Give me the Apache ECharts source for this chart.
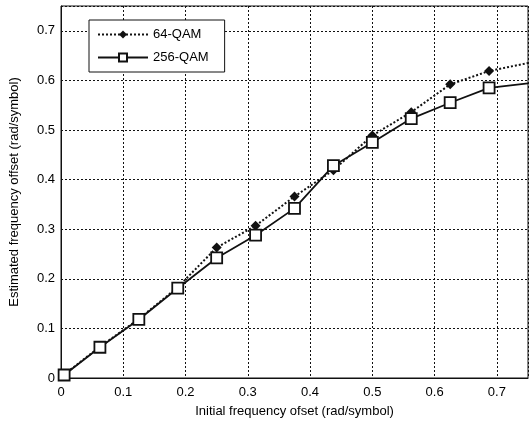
<!DOCTYPE html>
<html>
<head>
  <meta charset="UTF-8">
  <script src="https://cdn.jsdelivr.net/npm/echarts@6/dist/echarts.min.js"></script>
  <style>
    body { margin: 0; background: #fff; }
    #chart { width: 529px; height: 423px; }
  </style>
</head>
<body>
  <div id="chart"></div>
  <script>
    // initial offsets (rad/symbol)
    const xs = [0.005, 0.0625, 0.125, 0.1875, 0.25, 0.3125, 0.375, 0.4375, 0.5, 0.5625, 0.625, 0.6875, 0.75];
    const qam64 = [0.007, 0.063, 0.119, 0.183, 0.263, 0.307, 0.366, 0.419, 0.489, 0.536, 0.592, 0.619, 0.635];
    const qam256 = [0.006, 0.062, 0.118, 0.181, 0.242, 0.288, 0.342, 0.428, 0.475, 0.523, 0.555, 0.585, 0.594];
    const names = ['64-QAM', '256-QAM'];

    // last point sits on the frame edge, no marker drawn there
    function pairs(ys) {
      let out = [];
      for (let i = 0; i < xs.length; i++) {
        if (i == xs.length - 1) out.push({ value: [xs[i], ys[i]], symbol: 'none' });
        else out.push([xs[i], ys[i]]);
      }
      return out;
    }

    const txt = { color: '#000', fontFamily: 'Liberation Sans, Arial, sans-serif' };
    const dotted = { color: '#111', type: [2, 2], width: 1 };

    let chart = echarts.init(document.getElementById('chart'));
    chart.setOption({
      animation: false,
      grid: { left: 58, right: 1, top: 6, bottom: 45, show: true, borderColor: '#111', borderWidth: 1 },
      legend: {
        left: 89, top: 20, orient: 'vertical',
        borderColor: '#111', borderWidth: 1, backgroundColor: '#fff',
        padding: [8, 16, 8, 8], itemGap: 10, itemWidth: 50, itemHeight: 10,
        textStyle: Object.assign({ fontSize: 13 }, txt),
        data: names
      },
      xAxis: {
        type: 'value', min: 0, max: 0.75, interval: 0.1,
        name: 'Initial frequency ofset (rad/symbol)',
        nameLocation: 'middle', nameGap: 27,
        nameTextStyle: Object.assign({ fontSize: 13 }, txt),
        axisLine: { lineStyle: { color: '#111' } },
        axisTick: { show: false },
        axisLabel: Object.assign({ fontSize: 13, showMaxLabel: false, margin: 8 }, txt),
        splitLine: { lineStyle: dotted }
      },
      yAxis: {
        type: 'value', min: 0, max: 0.75, interval: 0.1,
        name: 'Estimated frequency offset (rad/symbol)',
        nameLocation: 'middle', nameGap: 40,
        nameTextStyle: Object.assign({ fontSize: 13 }, txt),
        axisLine: { show: true, lineStyle: { color: '#111' } },
        axisTick: { show: false },
        axisLabel: Object.assign({ fontSize: 13, showMaxLabel: false, margin: 6 }, txt),
        splitLine: { lineStyle: dotted }
      },
      series: [
        {
          name: names[0], type: 'line', data: pairs(qam64),
          symbol: 'diamond', symbolSize: 10,
          itemStyle: { color: '#111' },
          lineStyle: { color: '#111', width: 2, type: [2, 2] }
        },
        {
          name: names[1], type: 'line', data: pairs(qam256),
          symbol: 'rect', symbolSize: 11,
          itemStyle: { color: '#fff', borderColor: '#111', borderWidth: 1.8 },
          lineStyle: { color: '#111', width: 1.8 }
        }
      ]
    });
  </script>
</body>
</html>
